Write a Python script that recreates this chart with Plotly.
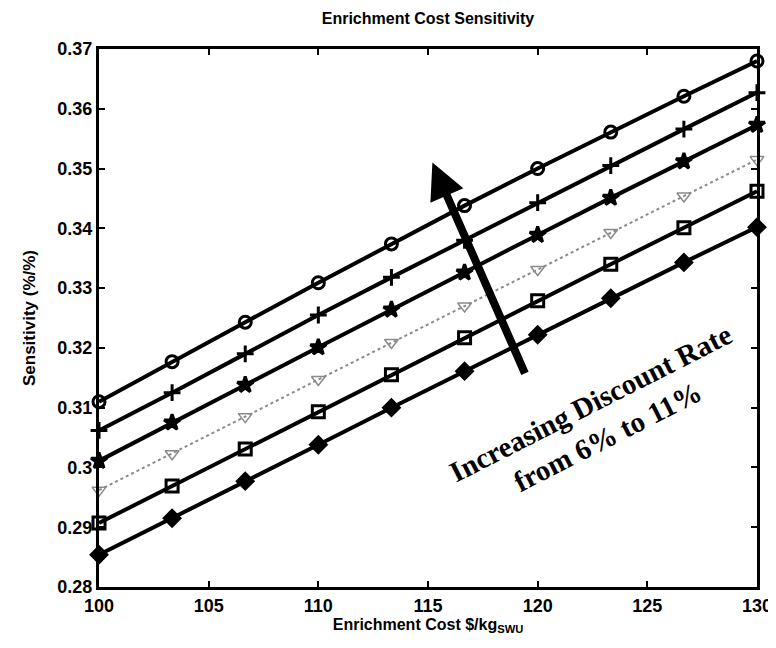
import plotly.graph_objects as go

x_cost = [100, 103.333, 106.667, 110, 113.333, 116.667, 120, 123.333, 126.667, 130]

rate_6 = [0.3110, 0.3177, 0.3243, 0.3309, 0.3374, 0.3438, 0.3500, 0.3561, 0.3621, 0.3680]
rate_7 = [0.3062, 0.3125, 0.3190, 0.3255, 0.3318, 0.3380, 0.3443, 0.3505, 0.3566, 0.3627]
rate_8 = [0.3011, 0.3075, 0.3138, 0.3201, 0.3264, 0.3326, 0.3389, 0.3451, 0.3512, 0.3573]
rate_9 = [0.2962, 0.3023, 0.3085, 0.3147, 0.3209, 0.3270, 0.3331, 0.3393, 0.3454, 0.3515]
rate_10 = [0.2907, 0.2969, 0.3031, 0.3093, 0.3155, 0.3217, 0.3279, 0.3340, 0.3401, 0.3462]
rate_11 = [0.2854, 0.2915, 0.2977, 0.3038, 0.3100, 0.3161, 0.3222, 0.3283, 0.3343, 0.3402]

x_ticks = [100, 105, 110, 115, 120, 125, 130]
y_ticks = [0.28, 0.29, 0.30, 0.31, 0.32, 0.33, 0.34, 0.35, 0.36, 0.37]
y_tick_text = ["0.28", "0.29", "0.3", "0.31", "0.32", "0.33", "0.34", "0.35", "0.36", "0.37"]

arrow_tail = (119.45, 0.3155)
arrow_tip = (115.2, 0.3510)

series = [
    (rate_6, "circle-open", "black", "solid", 4),
    (rate_7, "cross-thin-open", "black", "solid", 4),
    (rate_8, "star", "black", "solid", 4),
    (rate_9, "triangle-down-open", "#8a8a8a", "dot", 2),
    (rate_10, "square-open", "black", "solid", 4),
    (rate_11, "diamond", "black", "solid", 4),
]

fig = go.Figure()
for vals, sym, col, dash, lw in series:
    fig.add_trace(go.Scatter(
        x=x_cost, y=vals, mode="lines+markers", cliponaxis=False,
        line=dict(color=col, width=lw, dash=dash),
        marker=dict(symbol=sym, size=12, color=col,
                    line=dict(color=col, width=3 if sym != "triangle-down-open" else 1.5)),
        showlegend=False,
    ))

sans = "Liberation Sans Narrow, Arial Narrow, Liberation Sans, Arial"
font_tick = dict(family=sans, size=18, color="black", weight="bold")
font_lab = dict(family=sans, size=16, color="black", weight="bold")

fig.update_xaxes(range=[100, 130], tickvals=x_ticks, ticktext=[str(v) for v in x_ticks],
                 ticks="inside", ticklen=6, tickwidth=2, tickcolor="black",
                 showline=True, linecolor="black", linewidth=3, mirror="ticks",
                 showgrid=False, zeroline=False, tickfont=font_tick, ticklabeloverflow="allow",
                 title=dict(text="Enrichment Cost $/kg<sub>SWU</sub>", font=font_lab, standoff=2))
fig.update_yaxes(range=[0.28, 0.37], tickvals=y_ticks, ticktext=y_tick_text,
                 ticks="inside", ticklen=6, tickwidth=2, tickcolor="black",
                 showline=True, linecolor="black", linewidth=3, mirror="ticks",
                 showgrid=False, zeroline=False, tickfont=font_tick,
                 title=dict(text="Sensitivity (%/%)", font=dict(family=sans, size=17, color="black", weight="bold"), standoff=18))

fig.add_annotation(x=arrow_tip[0], y=arrow_tip[1], ax=arrow_tail[0], ay=arrow_tail[1],
                   xref="x", yref="y", axref="x", ayref="y", text="",
                   showarrow=True, arrowhead=2, arrowsize=0.9, arrowwidth=8, arrowcolor="black")

fig.add_annotation(x=122.8, y=0.3080, xref="x", yref="y",
                   text="Increasing Discount Rate<br>from 6% to 11%", showarrow=False,
                   textangle=-27, align="center",
                   font=dict(family="Liberation Serif, Times New Roman, serif", size=29, color="black", weight="bold"))

fig.update_layout(
    width=776, height=648,
    margin=dict(l=91, r=14, t=41, b=69),
    paper_bgcolor="white", plot_bgcolor="white",
    title=dict(text="Enrichment Cost Sensitivity", x=0.5, xref="paper", xanchor="center",
               y=1, yref="container", yanchor="top", pad=dict(t=5),
               font=dict(family=sans, size=16, color="black", weight="bold")),
)

fig.write_html("out.html")
